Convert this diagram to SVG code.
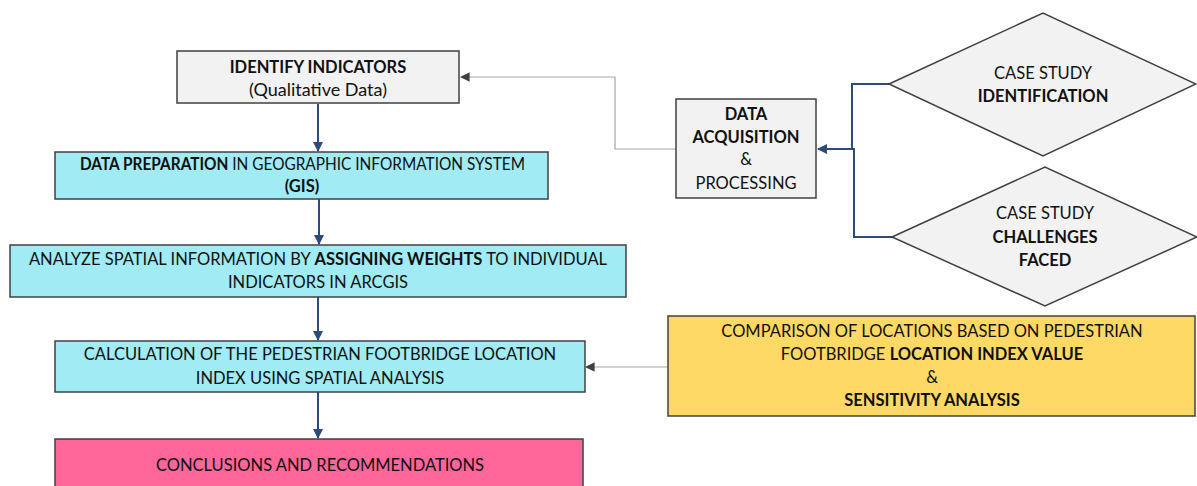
<svg xmlns="http://www.w3.org/2000/svg" width="1197" height="486" viewBox="0 0 1197 486">
<defs>
<style>
text{font-family:Lato,"Open Sans","Liberation Sans",sans-serif;font-size:16.5px;fill:#111;text-anchor:middle;dominant-baseline:central}
.b{font-weight:bold}
.box{stroke:#404040;stroke-width:1.5}
.grey{fill:#f2f2f2}
.cyan{fill:#a0ebf4}
.pink{fill:#ff6699}
.yellow{fill:#ffd966}
.blue{stroke:#2e4a7a;stroke-width:2;fill:none}
.gl{stroke:#a6a6a6;stroke-width:1.2;fill:none}
</style>
<marker id="ab" viewBox="0 0 10 10" refX="9" refY="5" markerWidth="5" markerHeight="5" orient="auto" markerUnits="strokeWidth"><path d="M0,0L10,5L0,10z" fill="#2e4a7a"/></marker>
<marker id="ag" viewBox="0 0 10 10" refX="9" refY="5" markerWidth="8" markerHeight="8" orient="auto" markerUnits="strokeWidth"><path d="M0,0L10,5L0,10z" fill="#404040"/></marker>
</defs>
<g id="connectors">
<path class="gl" d="M676,149H615V77H461" marker-end="url(#ag)"/>
<path class="gl" d="M668,367H586" marker-end="url(#ag)"/>
<path class="blue" d="M318,104V151" marker-end="url(#ab)"/>
<path class="blue" d="M319,199V244" marker-end="url(#ab)"/>
<path class="blue" d="M318,297V340" marker-end="url(#ab)"/>
<path class="blue" d="M318,392V438" marker-end="url(#ab)"/>
<path class="blue" d="M889,84H852V149"/>
<path class="blue" d="M892,237H854V149H818" marker-end="url(#ab)"/>
</g>
<g id="identify">
<rect class="box grey" x="177" y="51" width="282" height="52"/>
<text x="318" y="67" class="b">IDENTIFY INDICATORS</text>
<text x="318" y="89" style="font-size:18px">(Qualitative Data)</text>
</g>
<g id="preparation">
<rect class="box cyan" x="55" y="152" width="493" height="47"/>
<text x="302.5" y="164" textLength="445" lengthAdjust="spacingAndGlyphs"><tspan class="b">DATA PREPARATION</tspan> IN GEOGRAPHIC INFORMATION SYSTEM</text>
<text x="302" y="186" class="b">(GIS)</text>
</g>
<g id="analyze">
<rect class="box cyan" x="10" y="245" width="616" height="52"/>
<text x="318" y="259">ANALYZE SPATIAL INFORMATION BY <tspan class="b">ASSIGNING WEIGHTS</tspan> TO INDIVIDUAL</text>
<text x="318" y="282">INDICATORS IN ARCGIS</text>
</g>
<g id="calculation">
<rect class="box cyan" x="55" y="341" width="530" height="51"/>
<text x="320" y="354">CALCULATION OF THE PEDESTRIAN FOOTBRIDGE LOCATION</text>
<text x="320" y="378">INDEX USING SPATIAL ANALYSIS</text>
</g>
<g id="conclusions">
<rect class="box pink" x="55" y="439" width="528" height="60"/>
<text x="320" y="465">CONCLUSIONS AND RECOMMENDATIONS</text>
</g>
<g id="acquisition">
<rect class="box grey" x="676" y="99" width="140" height="99"/>
<text x="746" y="114" class="b">DATA</text>
<text x="746" y="137" class="b">ACQUISITION</text>
<text x="746" y="159">&amp;</text>
<text x="746" y="183">PROCESSING</text>
</g>
<g id="identification">
<polygon class="box grey" points="889,84 1043,13 1196,84 1043,156"/>
<text x="1043" y="73">CASE STUDY</text>
<text x="1043" y="96" class="b">IDENTIFICATION</text>
</g>
<g id="challenges">
<polygon class="box grey" points="892,237 1045,167 1197,237 1045,306"/>
<text x="1045" y="213">CASE STUDY</text>
<text x="1045" y="237" class="b">CHALLENGES</text>
<text x="1045" y="260" class="b">FACED</text>
</g>
<g id="comparison">
<rect class="box yellow" x="668" y="316" width="527" height="100"/>
<text x="932" y="331">COMPARISON OF LOCATIONS BASED ON PEDESTRIAN</text>
<text x="932" y="354">FOOTBRIDGE <tspan class="b">LOCATION INDEX VALUE</tspan></text>
<text x="932" y="377">&amp;</text>
<text x="932" y="400" class="b">SENSITIVITY ANALYSIS</text>
</g>
</svg>
